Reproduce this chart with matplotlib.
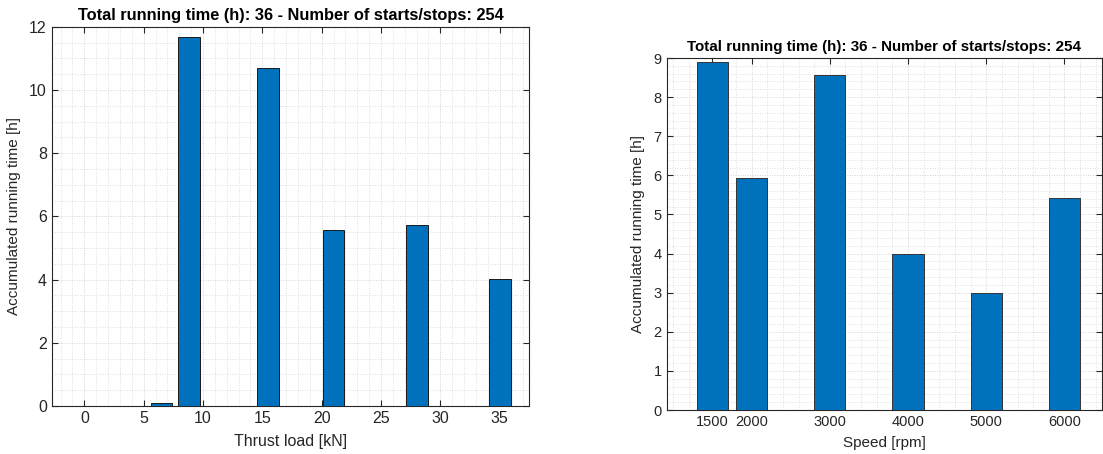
import numpy as np
import matplotlib.pyplot as plt
from matplotlib.ticker import MultipleLocator

plt.rcParams['font.family'] = ['Liberation Sans', 'DejaVu Sans']

# thrust load histogram (kN -> hours)
thrust_kn = [6.5, 8.8, 15.5, 21.0, 28.0, 35.0]
thrust_hours = [0.1, 11.67, 10.68, 5.57, 5.72, 4.03]

# speed histogram (rpm -> hours)
speed_rpm = [1500, 2000, 3000, 4000, 5000, 6000]
speed_hours = [8.9, 5.93, 8.56, 3.98, 2.98, 5.42]

title_txt = 'Total running time (h): 36 - Number of starts/stops: 254'
ylab = 'Accumulated running time [h]'

bar_col = '#0072BD'
ax_col = '#262626'


def style_axes(ax, fs):
    for s in ax.spines.values():
        s.set_color(ax_col)
        s.set_linewidth(0.8)
    ax.tick_params(which='major', direction='in', length=4, width=0.8,
                   top=True, right=True, colors=ax_col, labelsize=fs)
    ax.tick_params(which='minor', length=0)
    ax.grid(which='major', color='#d4d4d4', linestyle=(0, (1, 1.5)), linewidth=0.7)
    ax.grid(which='minor', color='#d4d4d4', linestyle=(0, (1, 2)), linewidth=0.6)
    ax.set_axisbelow(True)


fig = plt.figure(figsize=(11.03, 4.54), dpi=100)

ax1 = fig.add_axes([0.0469, 0.1057, 0.4330, 0.8355])
ax1.bar(thrust_kn, thrust_hours, width=0.8 * 2.3, color=bar_col,
        edgecolor='#1a1a1a', linewidth=0.7, zorder=3)
ax1.set_xlim(-2.75, 37.5)
ax1.set_ylim(0, 12)
ax1.set_xticks(np.arange(0, 36, 5))
ax1.set_yticks(np.arange(0, 13, 2))
ax1.xaxis.set_minor_locator(MultipleLocator(1))
ax1.yaxis.set_minor_locator(MultipleLocator(0.5))
style_axes(ax1, 11.5)
ax1.set_title(title_txt, fontsize=11.8, fontweight='bold', color='black', pad=5)
ax1.set_xlabel('Thrust load [kN]', fontsize=11.5, color=ax_col, labelpad=6)
ax1.set_ylabel(ylab, fontsize=11, color=ax_col, labelpad=6)

ax2 = fig.add_axes([0.6044, 0.0969, 0.3947, 0.7753])
ax2.bar(speed_rpm, speed_hours, width=400, color=bar_col,
        edgecolor='#333333', linewidth=0.7, zorder=3)
ax2.set_xlim(914, 6480)
ax2.set_ylim(0, 9)
ax2.set_xticks(speed_rpm)
ax2.set_yticks(np.arange(0, 10, 1))
ax2.xaxis.set_minor_locator(MultipleLocator(200))
ax2.yaxis.set_minor_locator(MultipleLocator(0.2))
style_axes(ax2, 10.5)
ax2.set_title(title_txt, fontsize=10.9, fontweight='bold', color='black', pad=5)
ax2.set_xlabel('Speed [rpm]', fontsize=11, color=ax_col, labelpad=5)
ax2.set_ylabel(ylab, fontsize=11, color=ax_col, labelpad=6)

fig.savefig('out.png', dpi=100)
